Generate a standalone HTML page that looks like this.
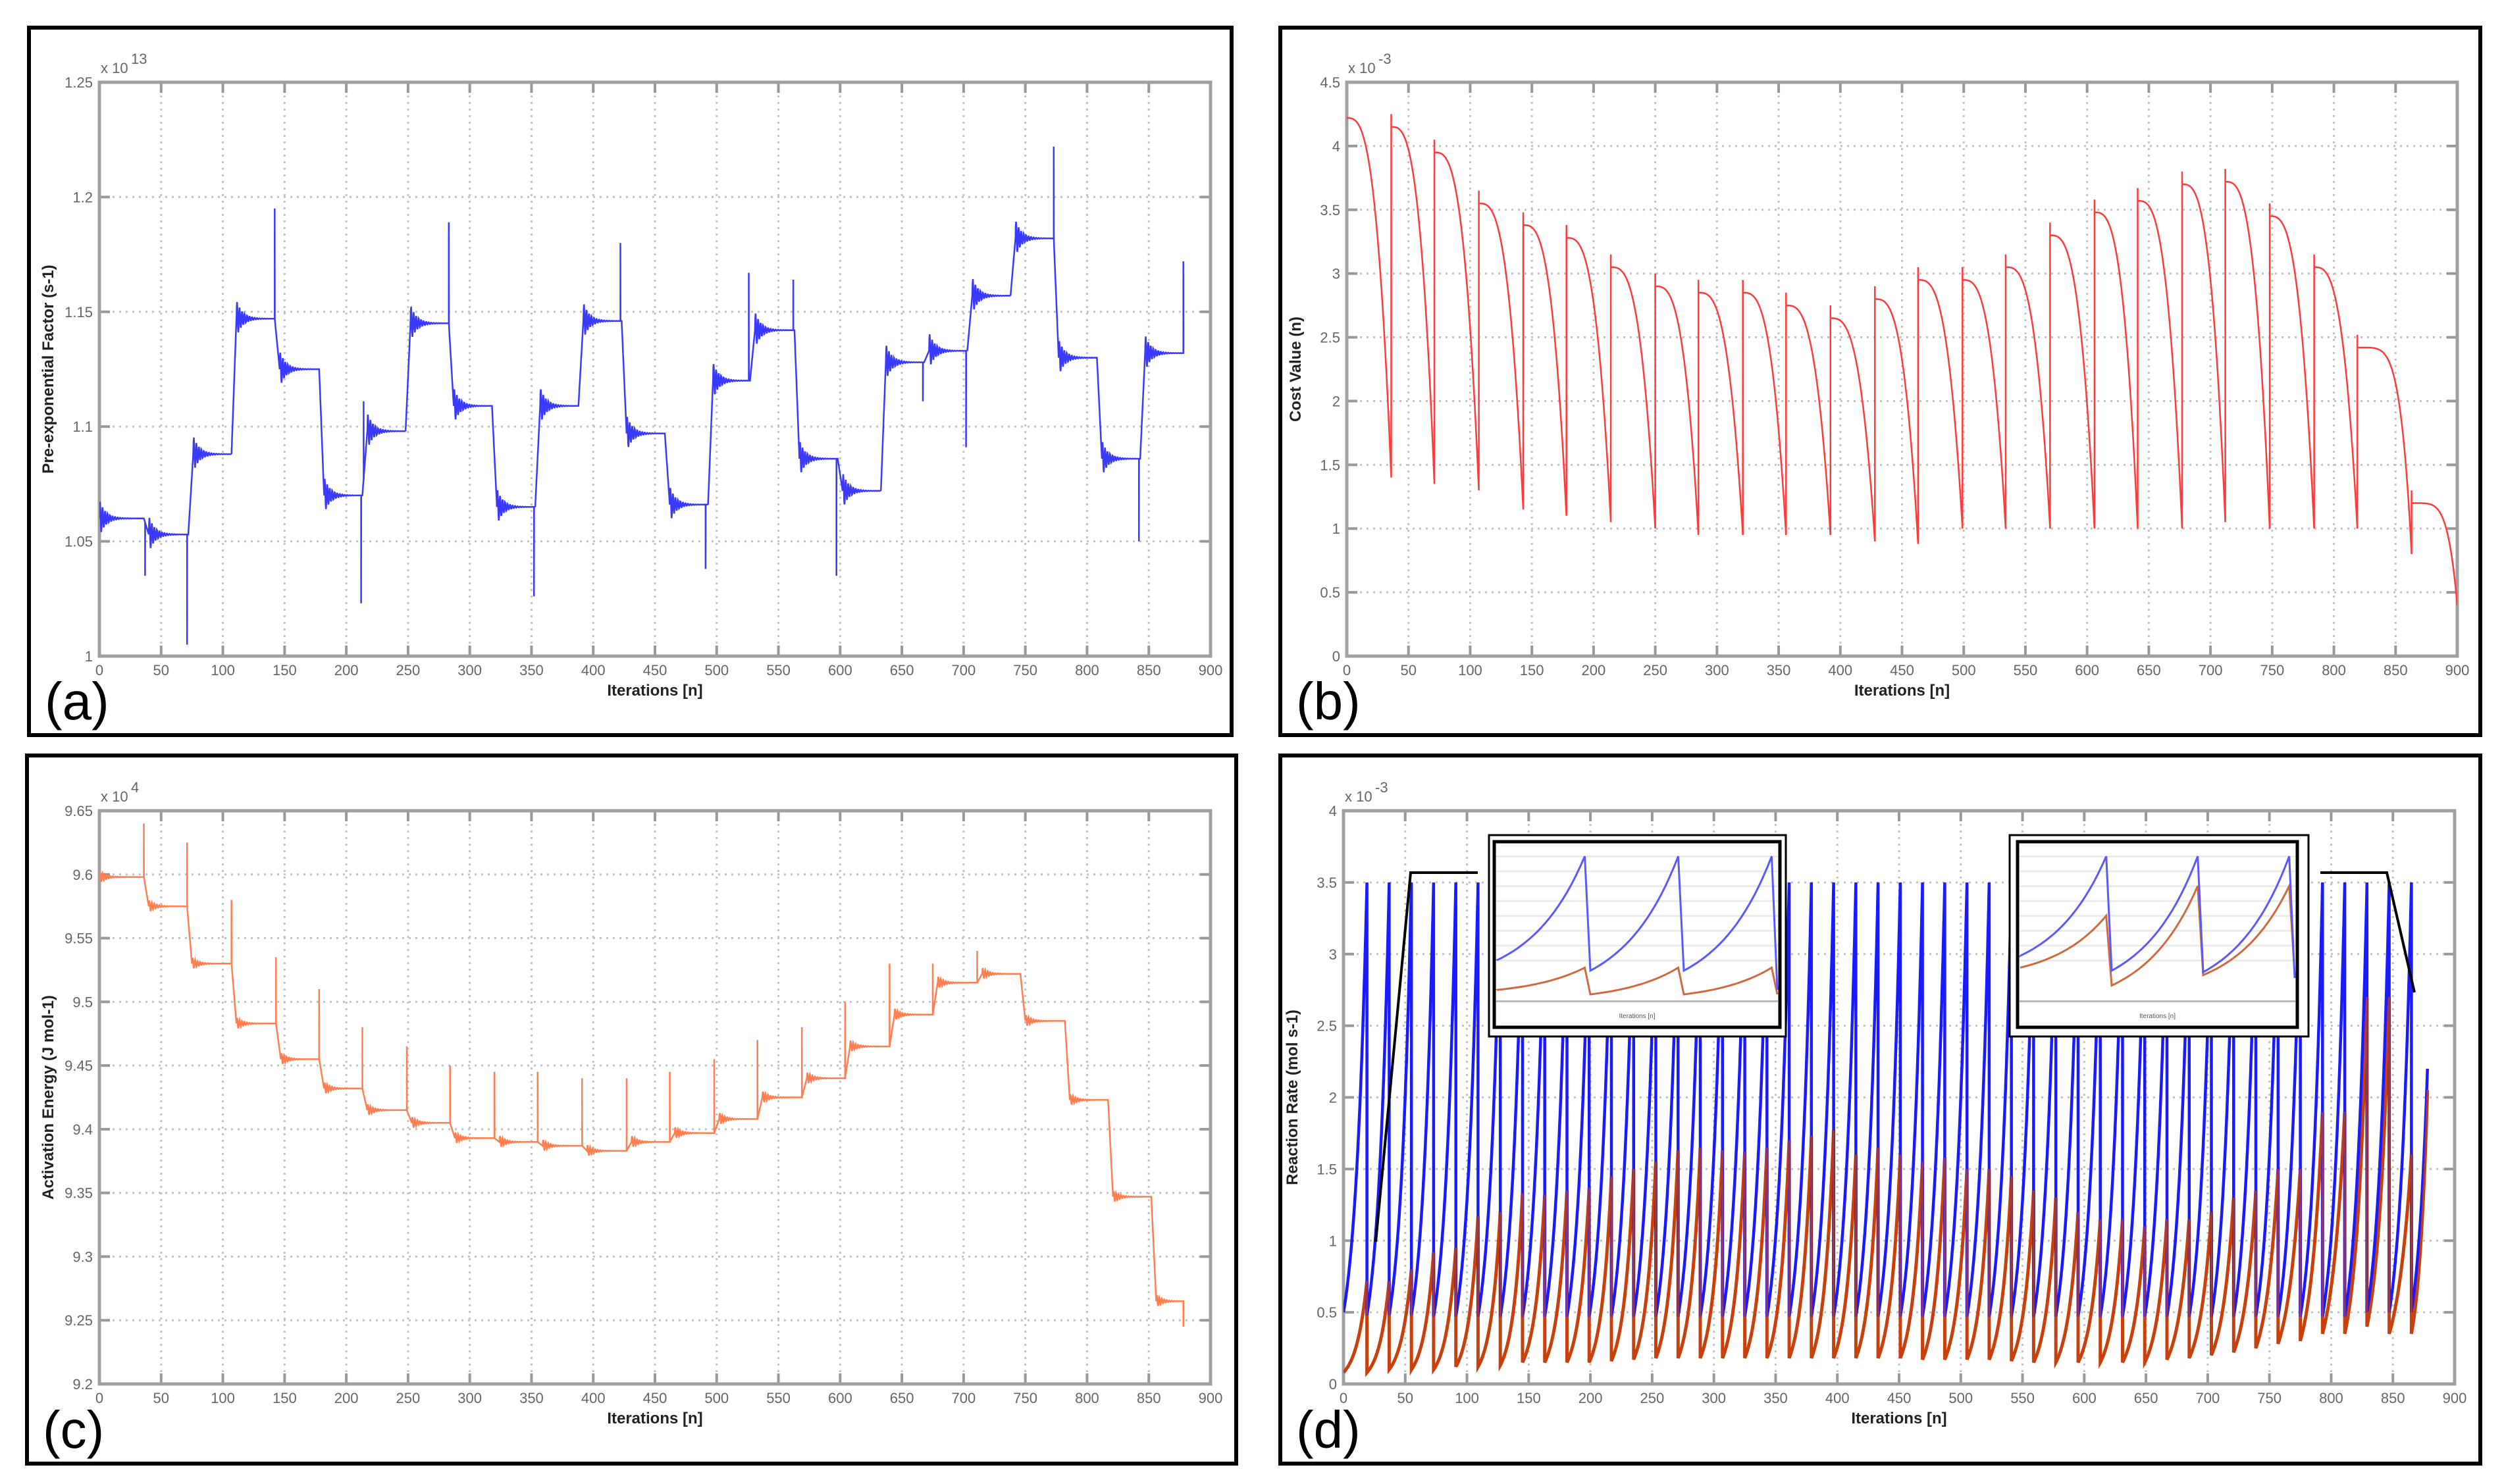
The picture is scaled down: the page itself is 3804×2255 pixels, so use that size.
<!DOCTYPE html>
<html><head><meta charset="utf-8"><style>
html,body{margin:0;padding:0;background:#fff;}
svg{display:block;font-family:"Liberation Sans",sans-serif;}
.tick{fill:#666;font-size:22px;}
.axl{fill:#222;font-size:24px;font-weight:bold;}
.pl{fill:#000;font-size:80px;}
</style></head><body>
<svg id="fig" width="3804" height="2255" viewBox="0 0 3804 2255" xmlns="http://www.w3.org/2000/svg">
<rect width="3804" height="2255" fill="#fff"/>
<g id="root"></g>
</svg>
<script>
// ---------- Panel (a) data: pre-exponential factor (x1e13) ----------
const aStarts = [0,36,72,107,142,178,213,248,283,318,353,388,423,458,493,527,563,598,633,668,703,738,773,808,843];
const aLevels = [1.060,1.053,1.088,1.147,1.125,1.070,1.098,1.145,1.109,1.065,1.109,1.146,1.097,1.066,1.120,1.142,1.086,1.072,1.128,1.133,1.157,1.182,1.130,1.086,1.132];
const aSpikeIter = [37,71,142,212,214,283,352,422,491,526,562,597,667,702,773,842,878];
const aSpikeVal = [1.035,1.005,1.195,1.023,1.111,1.189,1.026,1.180,1.038,1.167,1.164,1.035,1.111,1.091,1.222,1.050,1.172];
const aEnd = 878;
// ---------- Panel (b) data: cost value (x1e-3) ----------
const bStarts = [0,36,71,107,143,178,214,250,285,321,356,392,428,463,499,534,570,606,641,677,712,748,784,819,863];
const bPeaks = [4.22,4.15,3.95,3.55,3.38,3.28,3.05,2.9,2.85,2.85,2.75,2.65,2.8,2.95,2.95,3.05,3.3,3.48,3.57,3.7,3.72,3.45,3.05,2.42,1.2];
const bMins = [1.4,1.35,1.3,1.15,1.1,1.05,1.0,0.95,0.95,0.95,0.95,0.9,0.88,1.0,1.0,1.0,1.0,1.0,1.0,1.05,1.0,1.0,1.0,0.8,0.4];
const bEnd = 900;
// ---------- Panel (c) data: activation energy (x1e4) ----------
const cStarts = [0,36,71,107,143,178,213,249,284,320,355,391,427,462,498,533,569,604,640,675,711,746,782,817,852];
const cLevels = [9.598,9.575,9.53,9.483,9.455,9.432,9.415,9.405,9.393,9.39,9.387,9.383,9.39,9.397,9.408,9.425,9.44,9.465,9.49,9.515,9.522,9.485,9.423,9.347,9.265];
const cSpikeIter = [36,71,107,143,178,213,249,284,320,355,391,427,462,498,533,569,604,640,675,711,878];
const cSpikeVal = [9.64,9.625,9.58,9.535,9.51,9.48,9.465,9.45,9.445,9.445,9.44,9.44,9.445,9.455,9.47,9.48,9.50,9.53,9.53,9.54,9.245];
const cEnd = 878;
// ---------- Panel (d) data: reaction rate (x1e-3) ----------
const dPeakIter = [19,37,55,73,91,109,127,145,163,181,199,217,235,253,271,289,307,325,343,361,379,397,415,433,451,469,487,505,523,541,559,577,595,613,631,649,667,685,703,721,739,757,775,793,811,829,847,865,878];
const dBluePeaks = [3.5,3.5,3.5,3.5,3.5,3.5,3.5,3.5,3.5,3.5,3.5,3.5,3.5,3.5,3.5,3.5,3.5,3.5,3.5,3.5,3.5,3.5,3.5,3.5,3.5,3.5,3.5,3.5,3.5,3.5,3.5,3.5,3.5,3.5,3.5,3.5,3.5,3.5,3.5,3.5,3.5,3.5,3.5,3.5,3.5,3.5,3.5,3.5,2.2];
const dBlueTroughs = [0.5,0.48,0.48,0.48,0.47,0.47,0.47,0.47,0.47,0.47,0.47,0.47,0.47,0.47,0.47,0.47,0.47,0.47,0.47,0.47,0.47,0.47,0.47,0.47,0.47,0.47,0.47,0.47,0.47,0.47,0.47,0.47,0.47,0.47,0.47,0.47,0.47,0.47,0.47,0.47,0.47,0.47,0.47,0.47,0.47,0.47,0.5,0.5,0.5];
const dRedPeaks = [0.72,0.72,0.8,0.92,0.95,1.17,1.2,1.33,1.32,1.35,1.37,1.45,1.5,1.55,1.63,1.65,1.63,1.62,1.65,1.7,1.73,1.77,1.6,1.65,1.6,1.55,1.58,1.5,1.5,1.45,1.35,1.3,1.2,1.15,1.15,1.1,1.15,1.15,1.2,1.3,1.35,1.5,1.5,1.9,1.9,2.7,2.7,1.6,2.05];
const dRedTroughs = [0.08,0.08,0.1,0.1,0.1,0.12,0.12,0.13,0.15,0.15,0.15,0.15,0.16,0.17,0.18,0.18,0.18,0.18,0.18,0.18,0.18,0.18,0.18,0.18,0.18,0.18,0.17,0.17,0.17,0.17,0.16,0.15,0.15,0.15,0.15,0.15,0.15,0.17,0.18,0.2,0.22,0.25,0.28,0.3,0.35,0.35,0.4,0.35,0.35];
// inset curves (3 cycles each), values in inset-relative units 0..1
const in1Blue = [0.25,0.95,0.18,0.95,0.18,0.95,0.05];
const in1Red = [0.05,0.2,0.02,0.2,0.02,0.2,0.02];
const in2Blue = [0.28,0.95,0.18,0.95,0.17,0.95,0.13];
const in2Red = [0.2,0.55,0.08,0.75,0.15,0.75,0.15];

const NS = "http://www.w3.org/2000/svg";
const root = document.getElementById('root');
function el(tag, attrs, parent){
  const e = document.createElementNS(NS, tag);
  for (const k in attrs) e.setAttribute(k, attrs[k]);
  (parent||root).appendChild(e);
  return e;
}

function makeAxes(p){
  const g = el('g', {});
  
  
  const box = el('rect', {x:p.box[0], y:p.box[1], width:p.box[2]-p.box[0], height:p.box[3]-p.box[1], fill:'#fff', stroke:'#000', 'stroke-width':6}, g);
  
  
  const sx = i => p.L + i/900*(p.R-p.L);
  const sy = v => p.B - (v-p.y0)/(p.y1-p.y0)*(p.B-p.T);
  const grid = el('g', {}, g);
  
  
  for (let i=50;i<900;i+=50){
    el('line',{x1:sx(i),x2:sx(i),y1:p.T,y2:p.B,stroke:'#c4c4c4','stroke-width':3,'stroke-dasharray':'3 7'},grid);
    el('line',{x1:sx(i),x2:sx(i),y1:p.B,y2:p.B-16,stroke:'#999','stroke-width':4},grid);
    el('line',{x1:sx(i),x2:sx(i),y1:p.T,y2:p.T+16,stroke:'#999','stroke-width':4},grid);
  }
  for (let k=1;k<p.ticks.length-1;k++){
    const y = sy(p.tickVals[k]);
    el('line',{x1:p.L,x2:p.R,y1:y,y2:y,stroke:'#c4c4c4','stroke-width':3,'stroke-dasharray':'3 7'},grid);
    el('line',{x1:p.L,x2:p.L+16,y1:y,y2:y,stroke:'#999','stroke-width':4},grid);
    el('line',{x1:p.R,x2:p.R-16,y1:y,y2:y,stroke:'#999','stroke-width':4},grid);
  }
  const ax = el('rect',{x:p.L,y:p.T,width:p.R-p.L,height:p.B-p.T,fill:'none',stroke:'#a0a0a0','stroke-width':5},g);
  
  
  for (let i=0;i<=900;i+=50){
    const t = el('text',{x:sx(i),y:p.B+29,'text-anchor':'middle',class:'tick'},g);
    t.textContent = String(i);
    
    
  }
  for (let k=0;k<p.ticks.length;k++){
    const t = el('text',{x:p.L-10,y:sy(p.tickVals[k])+8,'text-anchor':'end',class:'tick'},g);
    t.textContent = p.ticks[k];
    
    
  }
  const m = el('text',{x:p.L+2,y:p.T-14,class:'tick','font-size':'20px'},g);
  m.textContent = 'x 10';
  
  
  const ms = el('text',{x:p.L+48,y:p.T-28,class:'tick','font-size':'14px'},g);
  ms.textContent = p.exp;
  
  
  const xl = el('text',{x:(p.L+p.R)/2,y:p.B+60,'text-anchor':'middle',class:'axl'},g);
  xl.textContent = 'Iterations [n]';
  
  
  const yl = el('text',{x:0,y:0,'text-anchor':'middle',class:'axl',transform:`translate(${p.L-70},${(p.T+p.B)/2}) rotate(-90)`},g);
  yl.textContent = p.ylabel;
  
  
  const pl = el('text',{x:p.box[0]+24,y:p.box[3]-24,class:'pl'},g);
  pl.textContent = p.letter;
  
  
  const clipId = 'clip-'+p.name;
  const cp = el('clipPath',{id:clipId},g);
  el('rect',{x:p.L,y:p.T,width:p.R-p.L,height:p.B-p.T},cp);
  const dg = el('g',{'clip-path':`url(#${clipId})`},g);
  
  
  return {g, dg, sx, sy};
}

function pathFrom(pts, sx, sy){
  return pts.map((q,i)=>(i?'L':'M')+sx(q[0]).toFixed(1)+' '+sy(q[1]).toFixed(1)).join('');
}

function stepPoints(starts, levels, spI, spV, end, ring){
  const pts = [];
  for (let s=0;s<starts.length;s++){
    const a = starts[s], b = (s+1<starts.length)?starts[s+1]:end;
    const prev = s? levels[s-1] : levels[0];
    for (let t=a; t<=b; t+=0.25){
      const u = t-a;
      let v;
      if (s && u<4) v = prev + (levels[s]-prev)*(u/4);
      else {
        const w = s? u-4 : u;
        v = levels[s] + ring*Math.exp(-w/5)*Math.sin(w*3.1);
      }
      pts.push([t,v]);
      for (let k=0;k<spI.length;k++){
        if (Math.abs(t-spI[k])<0.125){ pts.push([t,spV[k]]); pts.push([t+0.1,v]); }
      }
    }
  }
  return pts;
}

// ---- Panel a ----
{
  const p = makeAxes({name:'pre-exponential',box:[44,42,1871,1117],L:151,R:1839,T:125,B:997,y0:1,y1:1.25,
    ticks:['1','1.05','1.1','1.15','1.2','1.25'],tickVals:[1,1.05,1.1,1.15,1.2,1.25],exp:'13',
    ylabel:'Pre-exponential Factor (s-1)',letter:'(a)'});
  const pts = stepPoints(aStarts,aLevels,aSpikeIter,aSpikeVal,aEnd,0.008);
  const path = el('path',{d:pathFrom(pts,p.sx,p.sy),fill:'none',stroke:'#3a3aff','stroke-width':2.5},p.dg);
  
  
}
// ---- Panel b ----
{
  const p = makeAxes({name:'cost-value',box:[1945,42,3768,1117],L:2046,R:3733,T:125,B:997,y0:0,y1:4.5,
    ticks:['0','0.5','1','1.5','2','2.5','3','3.5','4','4.5'],tickVals:[0,0.5,1,1.5,2,2.5,3,3.5,4,4.5],exp:'-3',
    ylabel:'Cost Value (n)',letter:'(b)'});
  const pts = [];
  for (let s=0;s<bStarts.length;s++){
    const a=bStarts[s], b=(s+1<bStarts.length)?bStarts[s+1]:bEnd, T=b-a;
    const pw = (s>=bStarts.length-2)?5:3;
    if (s>0) pts.push([a, bPeaks[s]+0.1]);
    for (let t=0;t<=T;t+=0.25){
      pts.push([a+t, bPeaks[s]-(bPeaks[s]-bMins[s])*Math.pow(t/T,pw)]);
    }
  }
  const path = el('path',{d:pathFrom(pts,p.sx,p.sy),fill:'none',stroke:'#ff3a3a','stroke-width':2.5},p.dg);
  
  
}
// ---- Panel c ----
{
  const p = makeAxes({name:'activation-energy',box:[41,1148,1878,2224],L:151,R:1839,T:1232,B:2103,y0:9.2,y1:9.65,
    ticks:['9.2','9.25','9.3','9.35','9.4','9.45','9.5','9.55','9.6','9.65'],tickVals:[9.2,9.25,9.3,9.35,9.4,9.45,9.5,9.55,9.6,9.65],exp:'4',
    ylabel:'Activation Energy (J mol-1)',letter:'(c)'});
  const pts = stepPoints(cStarts,cLevels,cSpikeIter,cSpikeVal,cEnd,0.005);
  const path = el('path',{d:pathFrom(pts,p.sx,p.sy),fill:'none',stroke:'#ff7f50','stroke-width':2.5},p.dg);
  
  
}
// ---- Panel d ----
{
  const p = makeAxes({name:'reaction-rate',box:[1945,1148,3768,2224],L:2041,R:3729,T:1232,B:2103,y0:0,y1:4,
    ticks:['0','0.5','1','1.5','2','2.5','3','3.5','4'],tickVals:[0,0.5,1,1.5,2,2.5,3,3.5,4],exp:'-3',
    ylabel:'Reaction Rate (mol s-1)',letter:'(d)'});
  function saw(peaks, troughs){
    const pts=[];
    for (let s=0;s<dPeakIter.length;s++){
      const a = s? dPeakIter[s-1] : 0, b = dPeakIter[s];
      const lo = troughs[Math.min(s,troughs.length-1)], hi = peaks[s];
      const r = Math.log(hi/lo);
      for (let t=a;t<=b;t+=0.25){ pts.push([t, lo*Math.exp(r*(t-a)/(b-a))]); }
    }
    return pts;
  }
  const red = el('path',{d:pathFrom(saw(dRedPeaks,dRedTroughs),p.sx,p.sy),fill:'none',stroke:'#c8400c','stroke-width':5},p.dg);
  
  
  const blue = el('path',{d:pathFrom(saw(dBluePeaks,dBlueTroughs),p.sx,p.sy),fill:'none',stroke:'#1a1aff','stroke-width':4.5},p.dg);
  
  
  el('path',{d:pathFrom(saw(dRedPeaks,dRedTroughs),p.sx,p.sy),fill:'none',stroke:'#c8400c','stroke-width':3,opacity:0.75},p.dg);

  const c1 = el('polyline',{points:'2090,1887 2143,1326 2245,1326',fill:'none',stroke:'#000','stroke-width':4},p.g);
  
  
  const c2 = el('polyline',{points:'3525,1326 3626,1326 3668,1508',fill:'none',stroke:'#000','stroke-width':4},p.g);
  
  

  function inset(name, ox, oy, ow, oh, ix, iy, iw, ih, blueV, redV){
    const g = el('g',{},p.g);
    
    
    el('rect',{x:ox,y:oy,width:ow,height:oh,fill:'#fff',stroke:'#000','stroke-width':3},g);
    el('rect',{x:ix,y:iy,width:iw,height:ih,fill:'#fff',stroke:'#000','stroke-width':5},g);
    const pb = iy+ih*0.86;
    for (let k=1;k<=8;k++){
      const y = iy+ih*0.08*k;
      el('line',{x1:ix+3,x2:ix+iw-3,y1:y,y2:y,stroke:'#ececec','stroke-width':3},g);
    }
    el('line',{x1:ix+3,x2:ix+iw-3,y1:pb,y2:pb,stroke:'#bbb','stroke-width':3},g);
    const lab = el('text',{x:ix+iw/2,y:iy+ih*0.95,'text-anchor':'middle',fill:'#555','font-size':'10px'},g);
    lab.textContent = 'Iterations [n]';
    const X = f => ix+4+f*(iw-8);
    const Y = v => pb-6 - v*(ih*0.8);
    function curve(vals, col, nm){
      let d = 'M'+X(0)+' '+Y(vals[0]);
      const segs = (vals.length-1)/2;
      for (let s=0;s<segs;s++){
        const x0 = s/segs, x1 = (s+1)/segs - 0.02;
        const lo = vals[2*s], hi = vals[2*s+1];
        for (let t=0;t<=1.0001;t+=0.05){
          const v = lo + (hi-lo)*(Math.exp(1.6*t)-1)/(Math.exp(1.6)-1);
          d += 'L'+X(x0+(x1-x0)*t).toFixed(1)+' '+Y(v).toFixed(1);
        }
        d += 'L'+X(x1+0.02).toFixed(1)+' '+Y(vals[2*s+2]).toFixed(1);
      }
      const pth = el('path',{d,fill:'none',stroke:col,'stroke-width':3},g);
      
      
    }
    curve(redV,'#d06a40',name+'-red-curve');
    curve(blueV,'#5a5aff',name+'-blue-curve');
  }
  inset('inset-early',2262,1269,451,306,2270,1279,434,282,in1Blue,in1Red);
  inset('inset-late',3053,1269,454,306,3065,1279,425,282,in2Blue,in2Red);
}
</script>
</body></html>
